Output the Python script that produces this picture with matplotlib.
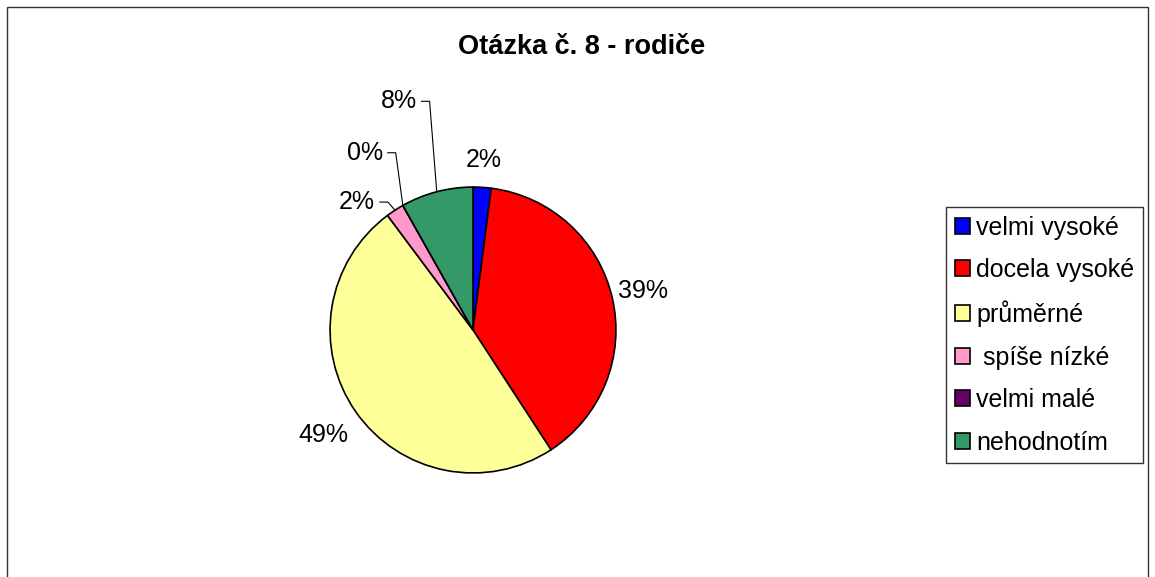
import numpy as np
import matplotlib
matplotlib.use('Agg')
import matplotlib.pyplot as plt
from matplotlib.patches import Rectangle

plt.rcParams['font.family'] = ['Liberation Sans', 'DejaVu Sans']

# data (answer counts)
categories = ['velmi vysoké', 'docela vysoké', 'průměrné', ' spíše nízké', 'velmi malé', 'nehodnotím']
counts = [1, 19, 24, 1, 0, 4]
colors = ['#0000FF', '#FF0000', '#FFFF99', '#FF99CC', '#660066', '#339966']

# label placement (style)
label_r = {0: 1.19, 1: 1.22, 2: 1.28}
leader_y = {3: 0.895, 4: 1.24, 5: 1.60}

fig = plt.figure(figsize=(11.55, 5.77), dpi=100)

# outer chart frame
fig.patches.append(Rectangle((7 / 1155, -0.05), 1141 / 1155, 1 - 7 / 577 + 0.05,
                             transform=fig.transFigure, fill=False,
                             edgecolor='#333333', linewidth=1.0))

ax = fig.add_axes([230 / 1155, 4 / 577, 486 / 1155, 486 / 577])
wedges, _ = ax.pie(counts, colors=colors, startangle=90, counterclock=False,
                   wedgeprops=dict(edgecolor='black', linewidth=1.2))
ax.set_xlim(-1.7, 1.7)
ax.set_ylim(-1.7, 1.7)
ax.set_aspect('equal')
ax.axis('off')

total = sum(counts)
pcts = [100.0 * c / total for c in counts]
cum = np.cumsum([0] + counts)
for i, p in enumerate(pcts):
    mid = (cum[i] + cum[i + 1]) / 2 / total * 2 * np.pi  # clockwise from top
    txt = f'{p:.0f}%'
    if i in label_r:
        r = label_r[i]
        ax.text(r * np.sin(mid), r * np.cos(mid), txt, ha='center', va='center',
                fontsize=18, clip_on=False)
    else:
        ex, ey = np.sin(mid), np.cos(mid)
        ly = leader_y[i]
        elbow_x = ex - 0.05
        ax.plot([elbow_x - 0.056, elbow_x, ex], [ly, ly, ey], color='black',
                linewidth=0.8, clip_on=False)
        ax.text(elbow_x - 0.056 - 0.035, ly, txt, ha='right', va='center',
                fontsize=18, clip_on=False)

leg = fig.legend(wedges, categories, loc='upper left',
                 bbox_to_anchor=(946 / 1155, 1 - 207 / 577), borderaxespad=0,
                 fontsize=18, frameon=True, fancybox=False, shadow=False,
                 handlelength=0.62, handleheight=0.62, handletextpad=0.25,
                 labelspacing=0.74, borderpad=0.34)
leg.get_frame().set_edgecolor('black')
leg.get_frame().set_linewidth(1.0)
for h in leg.legend_handles:
    h.set_edgecolor('black')
    h.set_linewidth(1.2)

fig.text(581.5 / 1155, 1 - 47 / 577, 'Otázka č. 8 - rodiče', ha='center', va='center',
         fontsize=19.5, fontweight='bold')

fig.savefig('out.png', dpi=100)
